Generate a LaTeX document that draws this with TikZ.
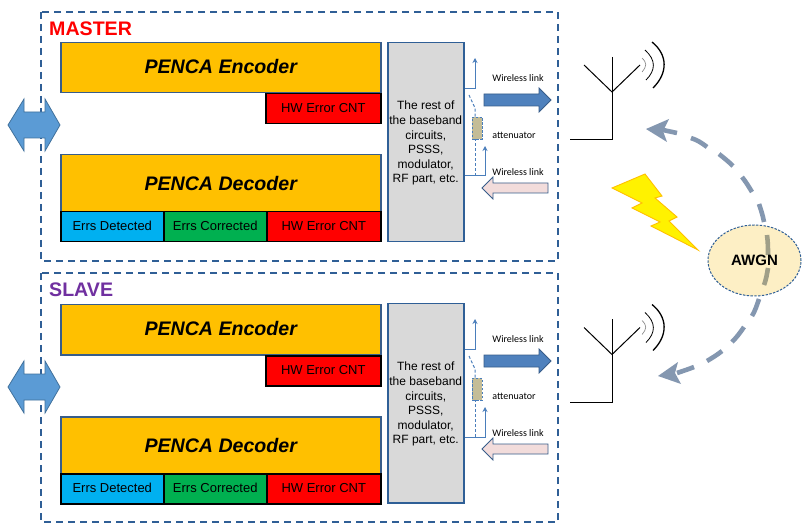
\documentclass[tikz,border=0pt]{standalone}
\usepackage{fontspec}
\setmainfont{Liberation Sans}
\newfontfamily\smallfont{Carlito}
\usetikzlibrary{arrows.meta,shapes.geometric}
\definecolor{edgeblue}{HTML}{385D8A}
\definecolor{boxblue}{HTML}{2F5F96}
\definecolor{wireblue}{HTML}{4A7EBB}
\definecolor{gold}{HTML}{FFC000}
\definecolor{lightblue}{HTML}{00B0F0}
\definecolor{midgreen}{HTML}{00B050}
\definecolor{restgray}{HTML}{D9D9D9}
\definecolor{arcgray}{HTML}{8497B0}
\definecolor{arcinner}{HTML}{A09F88}
\definecolor{slavepurple}{HTML}{7030A0}
\definecolor{busblue}{HTML}{5B9BD5}
\definecolor{busedge}{HTML}{41719C}
\definecolor{linkblue}{HTML}{4F81BD}
\definecolor{linkpink}{HTML}{F2DCDB}
\definecolor{tan}{HTML}{C4BD97}
\definecolor{awgnfill}{HTML}{FDEFC5}
\tikzset{
  mainbox/.style={draw=edgeblue,line width=1.5pt,fill=gold,anchor=north west,inner sep=0pt,font=\fontsize{19.6}{22}\selectfont\bfseries\itshape},
  cntbox/.style={draw=black,line width=1.5pt,anchor=north west,inner sep=0pt,text height=9.4pt,text depth=2.4pt,font=\fontsize{13}{15}\selectfont},
  restbox/.style={draw=boxblue,line width=1.5pt,fill=restgray,anchor=north west,inner sep=0pt,align=center,font=\fontsize{12}{14.6}\selectfont},
  outerbox/.style={draw=boxblue,line width=1.3pt,dash pattern=on 7pt off 5pt},
  title/.style={anchor=base west,inner sep=0pt,font=\fontsize{19.6}{22}\selectfont\bfseries},
  tiny/.style={inner sep=0pt,font=\fontsize{10}{12}\selectfont\smallfont},
  wire/.style={draw=wireblue,line width=1pt},
  wiretip/.style={wire,-{Stealth[length=5pt,width=5pt]}},
  wiredash/.style={wire,dash pattern=on 3pt off 2pt},
  busarrow/.style={draw=busedge,line width=.8pt,fill=busblue},
  linkout/.style={draw=edgeblue,line width=.8pt,fill=linkblue},
  linkin/.style={draw=edgeblue,line width=.8pt,fill=linkpink},
  attbox/.style={draw=wireblue,line width=.9pt,dash pattern=on 2.5pt off 1.5pt,fill=tan,inner sep=0pt,minimum width=10pt,minimum height=22pt},
  ant/.style={draw=black,line width=1pt},
  arcdash/.style={draw=arcgray,line width=4.6pt},
  arcin/.style={draw=arcinner,line width=4.6pt},
}
\newcommand{\blockunit}[4]{%
 % #1 prefix, #2 left offset, #3 right offset, #4 antenna offset
 \begin{scope}[name prefix=#1-]
  \begin{scope}[yshift=-#2pt]
   \node[mainbox,minimum width=320pt,minimum height=50pt,text depth=2pt] (enc) at (60,42) {PENCA Encoder};
   \node[cntbox,fill=red,minimum width=115pt,minimum height=30pt] (hwe) at (265,93) {HW Error CNT};
   \node[mainbox,minimum width=320pt,minimum height=87pt,text depth=30pt] (dec) at (60,154) {PENCA Decoder};
   \node[cntbox,fill=lightblue,minimum width=103pt,minimum height=30pt] (det) at (60,211) {Errs Detected};
   \node[cntbox,fill=midgreen,minimum width=103pt,minimum height=30pt] (cor) at (163,211) {Errs Corrected};
   \node[cntbox,fill=red,minimum width=114pt,minimum height=30pt] (hwd) at (266,211) {HW Error CNT};
   \draw[busarrow] (8,125) -- (24,99) -- (24,112) -- (45,112) -- (45,99) -- (60,125) -- (45,151) -- (45,138) -- (24,138) -- (24,151) -- cycle;
  \end{scope}
  \begin{scope}[yshift=-#3pt]
   \node[restbox,minimum width=76pt,minimum height=199pt] (rest) at (387,42) {\rule{0pt}{10.6pt}The rest of\\the baseband\\circuits,\\PSSS,\\modulator,\\RF part, etc.};
   \node[attbox] (att) at (477,128) {};
   \coordinate (upj) at (475,89);
   \coordinate (upt) at (475,58);
   \coordinate (swa) at (469,95);
   \coordinate (swb) at (475,108);
   \coordinate (dnj) at (475,176);
   \coordinate (inb) at (485,176);
   \coordinate (int) at (485,146);
   \draw[wire] (rest.east |- upj) -- (upj);
   \draw[wiretip] (upj) -- (upt);
   \draw[wiredash] (swa) -- (swb) -- (swb |- att.north);
   \draw[wiredash] (dnj) -- (dnj |- att.south);
   \draw[wiretip] (rest.east |- inb) -- (inb) -- (int);
   \draw[linkout] (484,94) -- (539,94) -- (539,88) -- (551,100) -- (539,112) -- (539,106) -- (484,106) -- cycle;
   \draw[linkin] (548,183) -- (493,183) -- (493,177) -- (482,188) -- (493,199) -- (493,193) -- (548,193) -- cycle;
   \node[tiny] (l1) at (518,78) {Wireless link};
   \node[tiny] (l2) at (514,135) {attenuator};
   \node[tiny] (l3) at (518,172) {Wireless link};
  \end{scope}
  \begin{scope}[yshift=-#4pt]
   \draw[ant] (612,57) -- (612,140) -- (570,140);
   \draw[ant] (584,65) -- (612,92) -- (640,65);
   \draw[draw=gray,line width=.6pt] (642,58) .. controls (647,63) and (647,66) .. (642,72);
   \draw[draw=black,line width=.8pt] (645,50) .. controls (656,60) and (656,70) .. (646,80);
   \draw[draw=black,line width=1.3pt] (652,42) .. controls (668,55) and (668,73) .. (653,88);
  \end{scope}
 \end{scope}}
\begin{document}
\begin{tikzpicture}[x=1pt,y=-1pt]
\useasboundingbox (0,0) rectangle (806,529);
\path[fill=white] (0,0) rectangle (806,529);
\draw[outerbox] (41,12) rectangle (558,261);
\draw[outerbox] (41,273) rectangle (558,522);
\blockunit{m}{0}{0}{0}
\blockunit{s}{262}{261}{262.5}
\node[title,text=red] (master) at (49,36) {MASTER};
\node[title,text=slavepurple] (slave) at (49,297) {SLAVE};
% lightning
\draw[draw=gold,line width=.9pt,fill=yellow] (612,188) -- (645,174) -- (662,196) -- (655,198) -- (677,217) -- (669,221) -- (698,250) -- (651,226) -- (660,222) -- (632,208) -- (642,203) -- cycle;
% noise arc
\draw[arcdash] (663,130) -- (677,133);
\draw[arcdash] (691,138) .. controls (697,140) and (702,143) .. (707,147);
\draw[arcdash] (719,154) .. controls (724,158) and (729,162) .. (733,166);
\draw[arcdash] (742,177) .. controls (746,182) and (749,187) .. (752,192);
\draw[arcdash] (759,204) .. controls (761,210) and (763,216) .. (764,222);
\draw[arcdash] (759,299) .. controls (757,305) and (755,311) .. (752,316);
\draw[arcdash] (744,327) .. controls (740,333) and (736,338) .. (732,342);
\draw[arcdash] (722,351) .. controls (717,355) and (712,358) .. (707,361);
\draw[arcdash] (694,367) .. controls (689,369) and (683,371) .. (677,373);
\fill[arcgray] (646,129) -- (669,119) -- (663,131) -- (667,142) -- cycle;
\fill[arcgray] (658,376) -- (678,362) -- (675,373) -- (681,384) -- cycle;
% AWGN
\fill[awgnfill] (754.5,260.5) ellipse [x radius=46.5,y radius=35.5];
\draw[arcin] (767,235) .. controls (768,242) and (768,249) .. (768,255);
\draw[arcin] (768,268) .. controls (767,274) and (766,280) .. (764,285);
\node[ellipse,draw=boxblue,line width=1pt,dash pattern=on 2.4pt off 1.4pt,minimum width=93pt,minimum height=71pt,inner sep=0pt,font=\fontsize{15}{17}\selectfont\bfseries] (awgn) at (754.5,260.5) {AWGN};
\end{tikzpicture}
\end{document}
